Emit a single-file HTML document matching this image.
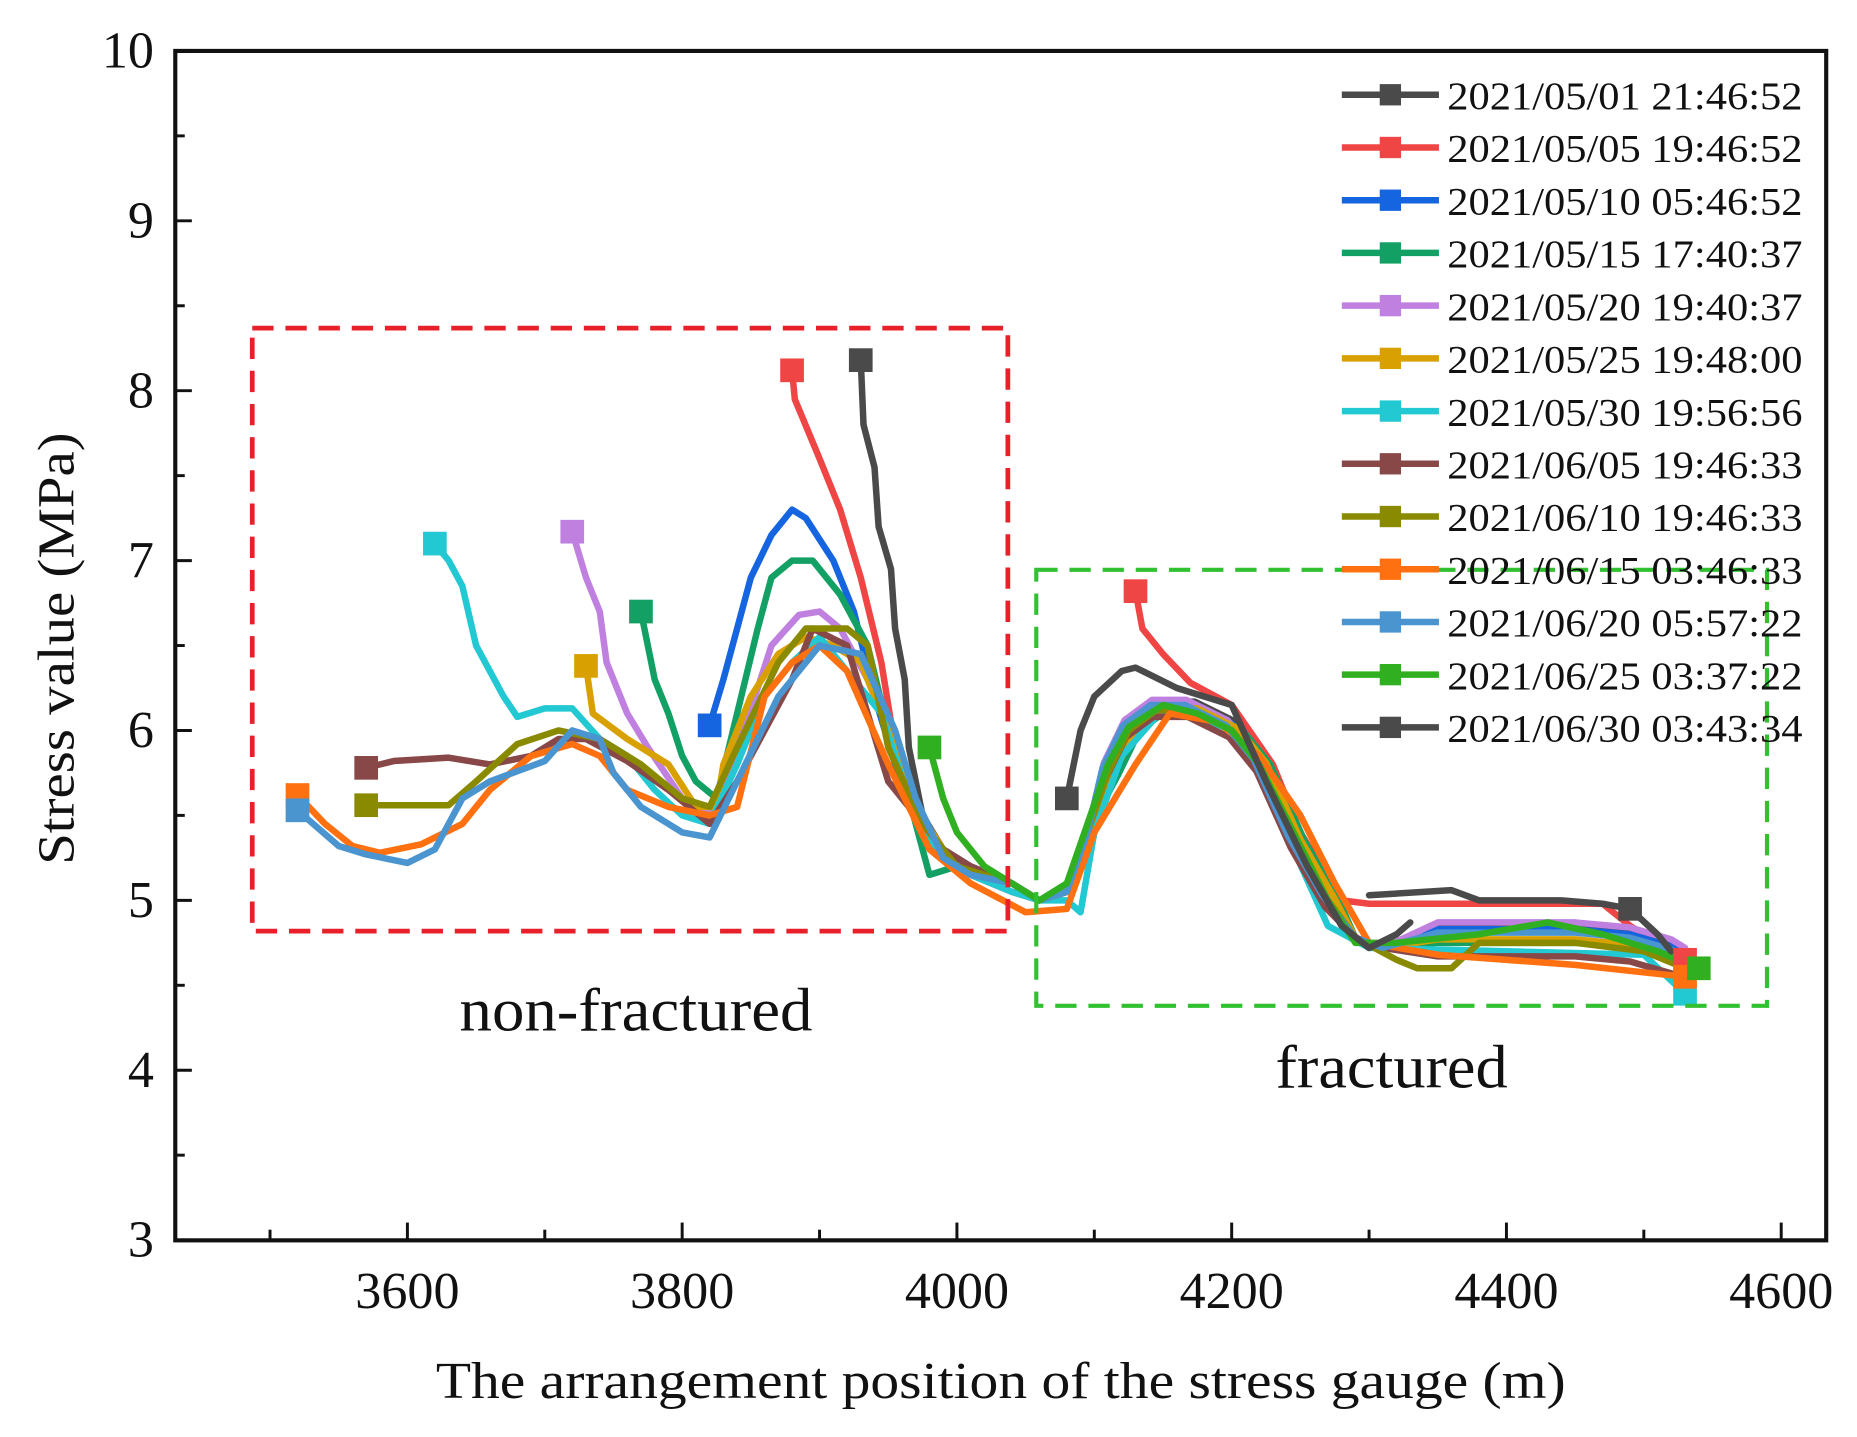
<!DOCTYPE html>
<html><head><meta charset="utf-8">
<style>html,body{margin:0;padding:0;background:#fff}svg{display:block}</style>
</head><body>
<svg id="s" width="1857" height="1437" viewBox="0 0 1568 1213" preserveAspectRatio="none" xmlns="http://www.w3.org/2000/svg" font-family="Liberation Serif, serif">
<rect x="0" y="0" width="1568" height="1213" fill="#fff"/>
<g id="data" transform="matrix(1.16 0 0 -143.4 -3832 1477)"></g>
<g id="axes" stroke="#111" stroke-width="3.5" fill="none">
<rect x="148" y="43" width="1394" height="1004"/>
</g>
<g id="ticks" stroke="#111" stroke-width="2.5"></g>
<g id="labels" font-size="44" fill="#111"></g>
<rect x="213" y="277" width="638" height="509" fill="none" stroke="#e8202a" stroke-width="4" stroke-dasharray="18,10"/>
<rect x="875" y="481" width="617" height="368" fill="none" stroke="#30c030" stroke-width="3.5" stroke-dasharray="18,10"/>
<text x="388" y="870" font-size="52" textLength="298" lengthAdjust="spacingAndGlyphs" fill="#111">non-fractured</text>
<text x="1077" y="918" font-size="52" textLength="196" lengthAdjust="spacingAndGlyphs" fill="#111">fractured</text>
<text x="368" y="1180" font-size="44" textLength="954" lengthAdjust="spacingAndGlyphs" fill="#111">The arrangement position of the stress gauge (m)</text>
<text transform="translate(62,730) rotate(-90)" font-size="44" textLength="365" lengthAdjust="spacingAndGlyphs" fill="#111">Stress value (MPa)</text>
<g id="legend" font-size="33" fill="#111"></g>
</svg>
<script>
var NS="http://www.w3.org/2000/svg";
function el(p,t,a,txt){var e=document.createElementNS(NS,t);for(var k in a)e.setAttribute(k,a[k]);if(txt!=null)e.textContent=txt;document.getElementById(p).appendChild(e);return e;}
for(var v=3;v<=10;v+=0.5){var y=760-(v-5)*143.4;var L=(v%1===0)?14:8;
 el("ticks","line",{x1:148,y1:y,x2:148+L,y2:y});
 if(v%1===0)el("labels","text",{x:130,y:y+14,"text-anchor":"end"},String(v));}
for(var x=3500;x<=4600;x+=100){var px=344+(x-3600)*1.16;var L=(x%200===0)?15:9;
 el("ticks","line",{x1:px,y1:1047,x2:px,y2:1047-L});
 if(x%200===0)el("labels","text",{x:px,y:1104,"text-anchor":"middle"},String(x));}
var R=[[4040,5.1],[4060,5.0],[4080,5.05],[4095,5.4],[4110,5.75],[4125,6.0],[4145,6.12],[4170,6.12],[4200,6.0],[4220,5.8],[4245,5.35],[4270,5.0],[4290,4.78],[4310,4.72],[4350,4.75],[4400,4.75],[4450,4.75],[4490,4.72],[4520,4.65],[4530,4.6]];
function r(dy,dx){return R.map(function(p,i){return [p[0]+(i>3&&i<12?(dx||0):0),p[1]+(i>13?dy:(i>3&&i<12?dy*0.5:0))];});}
var S=[
["#4a4a4a",[[3930,8.18],[3932,7.8],[3940,7.55],[3943,7.2],[3952,6.95],[3955,6.6],[3962,6.3],[3965,5.9],[3975,5.5],[3990,5.3],[4010,5.2]].concat(r(0.1,3)),[0]],
["#f04545",[[3880,8.12],[3882,7.95],[3900,7.6],[3915,7.3],[3930,6.9],[3945,6.4],[3955,5.9],[3965,5.6],[3985,5.3],[4010,5.15],[4040,5.05],[4060,5.0],[4080,5.05],[4095,5.35],[4110,5.7]],[0]],
["#f04545",[[4130,6.82],[4135,6.6],[4150,6.45],[4170,6.28],[4200,6.15],[4230,5.8],[4250,5.4],[4280,5.0],[4300,4.98],[4470,4.98],[4490,4.85],[4530,4.65]],[0,11]],
["#1565e0",[[3820,6.03],[3830,6.3],[3840,6.6],[3850,6.9],[3865,7.15],[3875,7.25],[3880,7.3],[3890,7.25],[3910,7.0],[3925,6.7],[3940,6.2],[3955,5.8],[3970,5.5],[3990,5.3],[4010,5.2]].concat(r(0.08,0)),[0]],
["#12a065",[[3770,6.7],[3775,6.5],[3780,6.3],[3790,6.1],[3800,5.85],[3810,5.7],[3825,5.6],[3840,6.1],[3855,6.6],[3865,6.9],[3880,7.0],[3895,7.0],[3915,6.8],[3935,6.5],[3950,6.0],[3965,5.6],[3980,5.15],[4000,5.2]].concat(r(0,8)),[0]],
["#c080e0",[[3720,7.17],[3730,6.9],[3740,6.7],[3745,6.4],[3760,6.1],[3775,5.9],[3800,5.6],[3820,5.5],[3845,6.0],[3865,6.5],[3885,6.68],[3900,6.7],[3915,6.6],[3935,6.3],[3955,5.9],[3970,5.5],[3990,5.3],[4010,5.2]].concat(r(0.12,-3)),[0]],
["#d8a000",[[3730,6.38],[3735,6.1],[3760,5.95],[3790,5.8],[3810,5.55],[3825,5.55],[3830,5.8],[3850,6.2],[3870,6.45],[3890,6.55],[3910,6.5],[3930,6.4],[3950,6.0],[3970,5.55],[3990,5.3],[4010,5.15]].concat(r(0.02,5)),[0]],
["#22c8d2",[[3620,7.1],[3630,7.0],[3640,6.85],[3650,6.5],[3670,6.2],[3680,6.08],[3700,6.13],[3720,6.13],[3740,5.95],[3760,5.85],[3780,5.65],[3800,5.5],[3820,5.45],[3840,5.8],[3860,6.2],[3880,6.4],[3900,6.55],[3920,6.35],[3945,6.1],[3965,5.6],[3980,5.35],[4010,5.15],[4040,5.05],[4060,5.0],[4080,5.0],[4090,4.93],[4100,5.4],[4120,5.85],[4145,6.08],[4170,6.1],[4200,6.0],[4220,5.75],[4245,5.3],[4270,4.85],[4300,4.72],[4400,4.7],[4500,4.68],[4530,4.45]],[0,37]],
["#884848",[[3570,5.78],[3590,5.82],[3630,5.84],[3660,5.8],[3690,5.85],[3710,5.95],[3730,5.95],[3760,5.82],[3790,5.65],[3820,5.45],[3840,5.7],[3860,6.0],[3880,6.3],[3895,6.6],[3920,6.5],[3950,5.7],[3970,5.5],[3990,5.3],[4010,5.2]].concat(r(-0.08,-2)),[0]],
["#8a8a00",[[3570,5.56],[3600,5.56],[3630,5.56],[3650,5.7],[3680,5.92],[3710,6.0],[3740,5.95],[3770,5.8],[3800,5.6],[3820,5.55],[3840,5.9],[3870,6.4],[3890,6.6],[3920,6.6],[3935,6.5],[3950,5.9],[3975,5.45],[4000,5.2],[4040,5.1],[4060,5.0],[4080,5.05],[4095,5.4],[4110,5.75],[4125,6.0],[4145,6.12],[4170,6.12],[4200,6.0],[4220,5.8],[4245,5.35],[4270,5.0],[4290,4.78],[4320,4.65],[4335,4.6],[4360,4.6],[4380,4.75],[4450,4.75],[4500,4.7],[4530,4.6]],[0]],
["#ff7010",[[3520,5.62],[3540,5.45],[3560,5.32],[3580,5.28],[3610,5.33],[3640,5.45],[3660,5.65],[3690,5.85],[3720,5.92],[3740,5.85],[3760,5.65],[3790,5.55],[3820,5.5],[3840,5.55],[3860,6.2],[3880,6.4],[3900,6.5],[3920,6.35],[3950,5.8],[3980,5.3],[4010,5.1],[4050,4.93],[4080,4.95],[4100,5.4],[4130,5.8],[4155,6.1],[4190,6.05],[4220,5.85],[4250,5.5],[4275,5.1],[4300,4.75],[4350,4.68],[4450,4.62],[4530,4.55]],[0,33]],
["#4a94d0",[[3520,5.53],[3550,5.32],[3570,5.27],[3600,5.22],[3620,5.3],[3640,5.6],[3660,5.7],[3700,5.82],[3720,6.0],[3740,5.95],[3750,5.75],[3770,5.55],[3800,5.4],[3820,5.37],[3840,5.7],[3870,6.2],[3900,6.5],[3930,6.45],[3955,6.0],[3970,5.6],[3990,5.25],[4010,5.15]].concat(r(0.06,-4)),[0]],
["#30b020",[[3980,5.9],[3990,5.6],[4000,5.4],[4020,5.2],[4050,5.05],[4060,5.0],[4080,5.1],[4095,5.45],[4110,5.8],[4125,6.02],[4150,6.15],[4175,6.1],[4200,6.0],[4220,5.8],[4245,5.4],[4270,5.0],[4290,4.75],[4320,4.75],[4380,4.8],[4430,4.87],[4470,4.8],[4510,4.7],[4540,4.6]],[0,22]],
["#4a4a4a",[[4080,5.6],[4090,6.0],[4100,6.2],[4120,6.35],[4130,6.37],[4160,6.25],[4200,6.15],[4225,5.7],[4255,5.2],[4280,4.85],[4300,4.72],[4320,4.8],[4330,4.87]],[0]],
["#4a4a4a",[[4300,5.03],[4360,5.06],[4380,5.0],[4440,5.0],[4470,4.98],[4490,4.95],[4510,4.8],[4520,4.7]],[5]]
];
S.forEach(function(s){
 el("data","polyline",{points:s[1].map(function(p){return p.join(",");}).join(" "),fill:"none",stroke:s[0],"stroke-width":6.5,"stroke-linejoin":"round","stroke-linecap":"round","vector-effect":"non-scaling-stroke"});
});
var g=document.getElementById("s");
S.forEach(function(s){
 s[2].forEach(function(i){var p=s[1][i];var px=1.16*p[0]-3832,py=1477-143.4*p[1];
  var r=document.createElementNS(NS,"rect");
  r.setAttribute("x",px-10);r.setAttribute("y",py-10);r.setAttribute("width",20);r.setAttribute("height",20);r.setAttribute("fill",s[0]);g.insertBefore(r,document.getElementById("axes"));});
});
var leg=[["#4a4a4a","2021/05/01 21:46:52"],["#f04545","2021/05/05 19:46:52"],["#1565e0","2021/05/10 05:46:52"],["#12a065","2021/05/15 17:40:37"],["#c080e0","2021/05/20 19:40:37"],["#d8a000","2021/05/25 19:48:00"],["#22c8d2","2021/05/30 19:56:56"],["#884848","2021/06/05 19:46:33"],["#8a8a00","2021/06/10 19:46:33"],["#ff7010","2021/06/15 03:46:33"],["#4a94d0","2021/06/20 05:57:22"],["#30b020","2021/06/25 03:37:22"],["#4a4a4a","2021/06/30 03:43:34"]];
leg.forEach(function(l,i){var y=80+i*44.5;
 el("legend","line",{x1:1133,y1:y,x2:1215,y2:y,stroke:l[0],"stroke-width":5.5});
 el("legend","rect",{x:1165,y:y-9,width:18,height:18,fill:l[0]});
 el("legend","text",{x:1222,y:y+12,textLength:300,lengthAdjust:"spacingAndGlyphs"},l[1]);});
</script>
</body></html>
